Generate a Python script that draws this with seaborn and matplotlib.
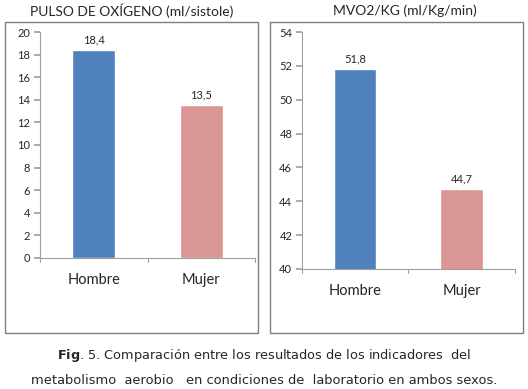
import matplotlib.pyplot as plt
import matplotlib.patches as mpatches
import pandas as pd
import seaborn as sns

sexos = ['Hombre', 'Mujer']
pulso_o2 = [18.4, 13.5]
mvo2_kg = [51.8, 44.7]
colores = ['#4F81BD', '#D99694']

sns.set_theme(style='white')
plt.rcParams['font.family'] = ['Lato', 'DejaVu Sans']

fig = plt.figure(figsize=(5.28, 3.89), dpi=100)

# marcos de cada panel (estilo Excel)
for x0 in [0.0095, 0.511]:
    fig.patches.append(mpatches.Rectangle((x0, 0.144), 0.479, 0.80, transform=fig.transFigure,
                                          fill=False, edgecolor='#7f7f7f', linewidth=1.0))

ax1 = fig.add_axes([0.0758, 0.3368, 0.4072, 0.5809])
ax2 = fig.add_axes([0.572, 0.3085, 0.403, 0.6092])

paneles = [
    (ax1, pulso_o2, (0, 20), range(0, 21, 2), 'PULSO DE OXÍGENO (ml/sistole)', 0.249),
    (ax2, mvo2_kg, (40, 54), range(40, 55, 2), 'MVO2/KG (ml/Kg/min)', 0.767),
]

for ax, valores, lim, ticks, titulo, xt in paneles:
    df = pd.DataFrame({'sexo': sexos, 'valor': valores})
    sns.barplot(data=df, x='sexo', y='valor', hue='sexo', palette=colores,
                width=0.4, legend=False, ax=ax, saturation=1)
    ax.set_ylim(*lim)
    ax.set_xlim(-0.5, 1.5)
    ax.set_yticks(list(ticks))
    ax.set_xlabel('')
    ax.set_ylabel('')
    for s in ['top', 'right']:
        ax.spines[s].set_visible(False)
    for s in ['left', 'bottom']:
        ax.spines[s].set_color('#a0a0a0')
        ax.spines[s].set_linewidth(0.8)
    ax.tick_params(axis='y', left=True, length=4, color='#a0a0a0', labelsize=8, pad=3)
    ax.tick_params(axis='x', bottom=False, labelsize=10.5, pad=5)
    # marcas del eje x en los limites de categoria
    for xb in [-0.5, 0.5, 1.5]:
        ax.plot([xb, xb], [0, -0.018], transform=ax.get_xaxis_transform(),
                color='#a0a0a0', linewidth=0.8, clip_on=False)
    for i, v in enumerate(valores):
        ax.annotate(f'{v:.1f}'.replace('.', ','), (i, v), xytext=(0, 3.5),
                    textcoords='offset points', ha='center', va='bottom', fontsize=8)
    fig.text(xt, 0.972, titulo, ha='center', va='center', fontsize=10)

fig.text(0.5, 0.087, r'$\bf{Fig}$. 5. Comparación entre los resultados de los indicadores  del',
         ha='center', va='center', fontsize=9.3, family='DejaVu Sans')
fig.text(0.5, 0.023, 'metabolismo  aerobio   en condiciones de  laboratorio en ambos sexos.',
         ha='center', va='center', fontsize=9.4, family='DejaVu Sans')

fig.savefig('out.png', dpi=100)
